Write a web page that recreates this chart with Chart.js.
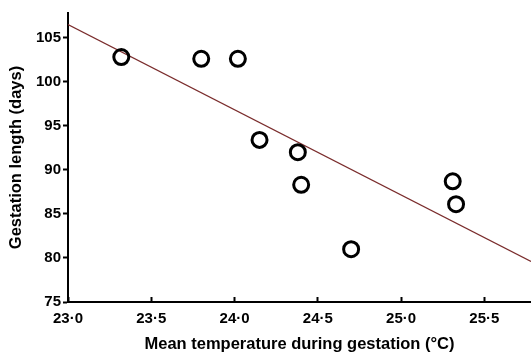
<!DOCTYPE html>
<html><head><meta charset="utf-8">
<script src="https://cdn.jsdelivr.net/npm/chart.js@4/dist/chart.umd.min.js"></script>
<style>html,body{margin:0;padding:0;background:#fff}#wrap{width:531px;height:353px}</style>
</head><body><div id="wrap"><canvas id="c" width="531" height="353"></canvas></div>
<script>
const temperatures = [23.32, 23.80, 24.02, 24.15, 24.38, 24.40, 24.70, 25.31, 25.33];
const gestationDays = [102.8, 102.6, 102.6, 93.4, 92.0, 88.3, 81.0, 88.7, 86.1];
const fitX = [23.0, 25.78];
const fitY = [106.5, 79.6];
const xTicks = [23.0, 23.5, 24.0, 24.5, 25.0, 25.5];
const xTickLabels = ['23·0', '23·5', '24·0', '24·5', '25·0', '25·5'];
const yTicks = [75, 80, 85, 90, 95, 100, 105];
const xRange = [23.0, 25.78];
const yRange = [75, 107.8];
const xTitle = 'Mean temperature during gestation (°C)';
const yTitle = 'Gestation length (days)';

const FONT = "'Liberation Sans', Arial, sans-serif";
const points = temperatures.map((t, i) => ({x: t, y: gestationDays[i]}));
const fitLine = fitX.map((t, i) => ({x: t, y: fitY[i]}));

function noPad(s) { s.paddingLeft = 0; s.paddingRight = 0; s.paddingTop = 0; s.paddingBottom = 0; }

new Chart(document.getElementById('c'), {
  type: 'scatter',
  data: {
    datasets: [
      {
        data: fitLine, showLine: true, pointRadius: 0, borderColor: '#7a2c2c',
        borderWidth: 1.2, order: 2
      },
      {
        data: points, pointRadius: 7.5, pointHoverRadius: 7.5, borderWidth: 3,
        borderColor: '#000', backgroundColor: 'rgba(0,0,0,0)', order: 1
      }
    ]
  },
  options: {
    responsive: false, animation: false, devicePixelRatio: 1,
    layout: {autoPadding: false, padding: {top: 13, right: 0, left: 0, bottom: 0}},
    plugins: {legend: {display: false}, tooltip: {enabled: false}},
    scales: {
      x: {
        type: 'linear', min: xRange[0], max: xRange[1],
        afterBuildTicks: s => { s.ticks = xTicks.map(v => ({value: v})); },
        afterFit: s => { s.height = 51; noPad(s); },
        border: {display: true, color: '#000', width: 2},
        grid: {drawOnChartArea: false, drawTicks: true, tickLength: -5, tickWidth: 2, tickColor: '#000'},
        ticks: {
          color: '#000', padding: 13, maxRotation: 0, autoSkip: false,
          font: {family: FONT, size: 15, weight: 'bold'},
          callback: (v) => xTickLabels[xTicks.indexOf(v)]
        },
        title: {
          display: true, text: xTitle, color: '#000',
          font: {family: FONT, size: 16.5, weight: 'bold', lineHeight: 1},
          padding: {top: 0, bottom: 0}
        }
      },
      y: {
        type: 'linear', min: yRange[0], max: yRange[1],
        afterBuildTicks: s => { s.ticks = yTicks.map(v => ({value: v})); },
        afterFit: s => { s.width = 68; noPad(s); },
        border: {display: true, color: '#000', width: 2},
        grid: {drawOnChartArea: false, drawTicks: true, tickLength: 5, tickWidth: 2, tickColor: '#000'},
        ticks: {
          color: '#000', padding: 2, autoSkip: false,
          font: {family: FONT, size: 15, weight: 'bold'}
        },
        title: {
          display: true, text: yTitle, color: '#000',
          font: {family: FONT, size: 16.5, weight: 'bold', lineHeight: 1.2},
          padding: {top: 7, bottom: 0}
        }
      }
    }
  }
});
</script></body></html>
